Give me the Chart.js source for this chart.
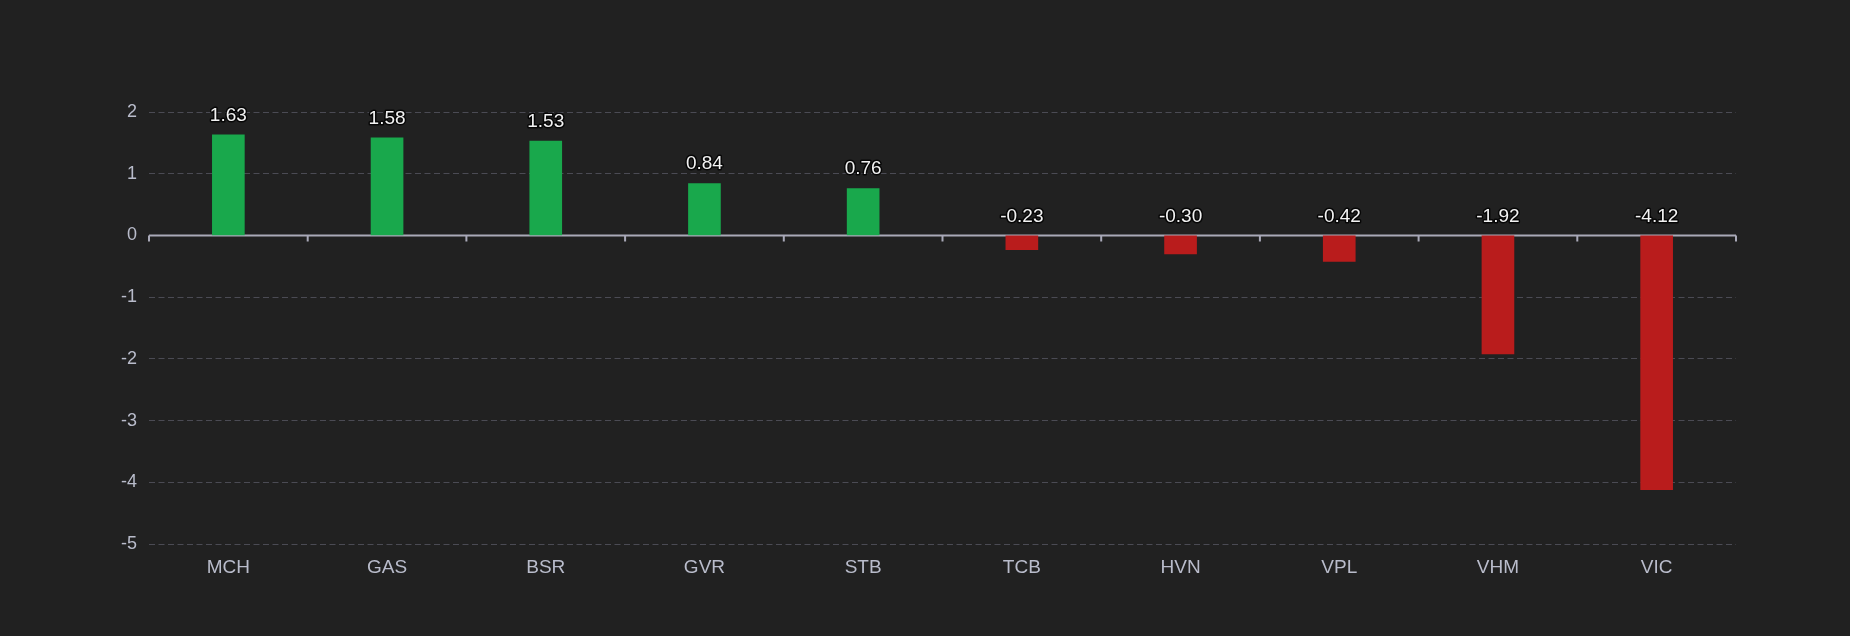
<!DOCTYPE html>
<html>
<head>
<meta charset="utf-8">
<script src="https://cdn.jsdelivr.net/npm/chart.js@4.4.1/dist/chart.umd.min.js"></script>
<style>
    html, body { margin: 0; padding: 0; background: #212121; }
    #wrap { width: 1850px; height: 636px; }
</style>
</head>
<body>
<div id="wrap"><canvas id="stockChart"></canvas></div>
<script>
const symbols = ['MCH', 'GAS', 'BSR', 'GVR', 'STB', 'TCB', 'HVN', 'VPL', 'VHM', 'VIC'];
const impact = [1.63, 1.58, 1.53, 0.84, 0.76, -0.23, -0.30, -0.42, -1.92, -4.12];
const yTicks = [2, 1, 0, -1, -2, -3, -4, -5];

const upColor = '#19a84c';
const downColor = '#b91c1c';
const axisColor = '#a9a9b8';
const labelColor = '#b9bccb';
const fontFamily = '"Liberation Sans", Arial, sans-serif';

// truc 0 + vach chia o giua cac cot
const zeroAxis = {
    id: 'zeroAxis',
    beforeDatasetsDraw(chart) {
        const { ctx, chartArea, scales } = chart;
        const y0 = scales.y.getPixelForValue(0);
        const x = scales.x;
        ctx.save();
        ctx.strokeStyle = axisColor;
        ctx.lineWidth = 2;
        ctx.beginPath();
        ctx.moveTo(chartArea.left, y0);
        ctx.lineTo(chartArea.right, y0);
        for (let i = 0; i <= symbols.length; i++) {
            const px = x.getPixelForValue(i - 0.5);
            ctx.moveTo(px, y0);
            ctx.lineTo(px, y0 + 6);
        }
        ctx.stroke();
        ctx.restore();
    }
};

const valueLabels = {
    id: 'valueLabels',
    afterDatasetsDraw(chart) {
        const { ctx } = chart;
        const meta = chart.getDatasetMeta(0);
        ctx.save();
        ctx.font = '19px ' + fontFamily;
        ctx.textAlign = 'center';
        ctx.textBaseline = 'bottom';
        ctx.lineJoin = 'round';
        meta.data.forEach((bar, i) => {
            const top = Math.min(bar.y, bar.base) - 10;
            const txt = impact[i].toFixed(2);
            ctx.strokeStyle = 'rgba(0,0,0,0.8)';
            ctx.lineWidth = 3;
            ctx.strokeText(txt, bar.x, top);
            ctx.fillStyle = '#f2f2f2';
            ctx.fillText(txt, bar.x, top);
        });
        ctx.restore();
    }
};

const ctx = document.getElementById('stockChart').getContext('2d');
const stockChart = new Chart(ctx, {
    type: 'bar',
    data: {
        labels: symbols,
        datasets: [{
            data: impact,
            backgroundColor: impact.map(v => v >= 0 ? upColor : downColor),
            borderWidth: 0,
            barThickness: 32,
        }]
    },
    options: {
        responsive: true,
        maintainAspectRatio: false,
        animation: false,
        layout: {
            padding: { top: 112, right: 114, bottom: 52, left: 0 }
        },
        plugins: {
            legend: { display: false },
            tooltip: { enabled: false },
        },
        scales: {
            x: {
                grid: { display: false },
                border: { display: false },
                ticks: {
                    color: labelColor,
                    padding: 4,
                    font: { size: 19, family: fontFamily },
                },
                afterFit(scale) { scale.height = 40; }
            },
            y: {
                min: -5,
                max: 2,
                afterBuildTicks(scale) {
                    scale.ticks = yTicks.map(v => ({ value: v }));
                },
                afterFit(scale) { scale.width = 149; },
                grid: {
                    color: c => c.tick && c.tick.value === 0 ? 'rgba(0,0,0,0)' : '#4b4b54',
                    drawTicks: false,
                },
                border: { display: false, dash: [6, 3.5] },
                ticks: {
                    color: labelColor,
                    padding: 12,
                    font: { size: 18, family: fontFamily },
                }
            }
        }
    },
    plugins: [zeroAxis, valueLabels]
});
</script>
</body>
</html>
